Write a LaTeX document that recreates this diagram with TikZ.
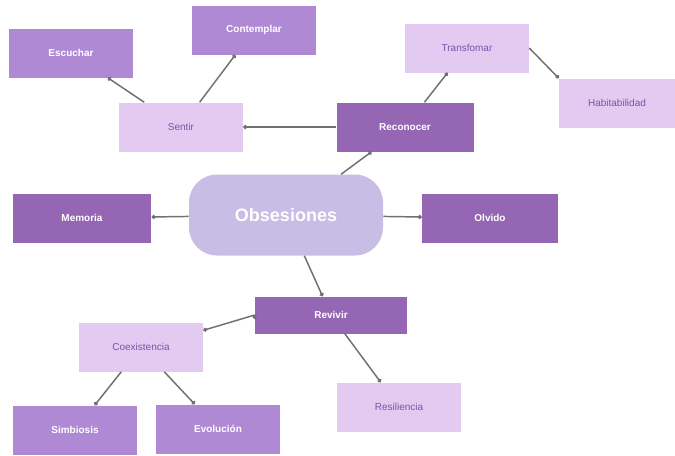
\documentclass[tikz,border=0pt]{standalone}
\usepackage{fontspec}
\setmainfont{Liberation Sans}
\usetikzlibrary{arrows.meta}

\definecolor{darkp}{HTML}{9566B3}
\definecolor{midp}{HTML}{B089D5}
\definecolor{lightp}{HTML}{E3CAF0}
\definecolor{corep}{HTML}{C8BDE4}
\definecolor{inkp}{HTML}{7B52AB}
\definecolor{linkg}{HTML}{707070}

\begin{document}
\begin{tikzpicture}[x=0.75pt,y=-0.75pt,>={Circle[length=3pt,fill=black!80]},
  box/.style={rectangle, inner sep=0pt, minimum width=93pt, minimum height=36.75pt,
    font=\fontsize{7.5}{9}\selectfont},
  dark/.style={box, fill=darkp, text=white, font=\fontsize{7.5}{9}\selectfont\bfseries},
  mid/.style={box, fill=midp, text=white, font=\fontsize{7.5}{9}\selectfont\bfseries},
  light/.style={box, fill=lightp, text=inkp},
  link/.style={draw=linkg, line width=1.1pt}]
  \useasboundingbox (0,0) rectangle (675,455);

  \node[rectangle, rounded corners=21pt, fill=corep, text=white, minimum width=145.5pt,
    minimum height=60.75pt, font=\fontsize{13.5}{16}\selectfont\bfseries]
                                        (obs)    at (286,215) {Obsesiones};
  \node[dark, minimum width=102.75pt]   (recon)  at (405,127) {Reconocer};
  \node[light]                          (sentir) at (181,127) {Sentir};
  \node[mid]                            (escu)   at (71,53)   {Escuchar};
  \node[mid]                            (contem) at (254,30)  {Contemplar};
  \node[light]                          (transf) at (467,48)  {Transfomar};
  \node[light, minimum width=87pt]      (habit)  at (617,103) {Habitabilidad};
  \node[dark, minimum width=104pt]      (memo)   at (82,218)  {Memoria};
  \node[dark, minimum width=102pt]      (olvi)   at (490,218) {Olvido};
  \node[dark, minimum width=114pt, minimum height=27.75pt]
                                        (revi)   at (331,315) {Revivir};
  \node[light]                          (coex)   at (141,347) {Coexistencia};
  \node[mid]                            (simb)   at (75,430)  {Simbiosis};
  \node[mid]                            (evol)   at (218,429) {Evolución};
  \node[light]                          (resil)  at (399,407) {Resiliencia};

  \path[->, link]
  (obs) edge (recon)
  (obs) edge (memo)
  (obs) edge (olvi)
  (obs) edge (revi)
  (recon) edge (sentir)
  (recon) edge (transf)
  (transf.east) edge (habit.north west)
  (sentir) edge (escu)
  (sentir) edge (contem)
  (revi.west) edge (coex.15)
  (revi) edge (resil)
  (coex) edge (simb)
  (coex) edge (evol)
  ;
\end{tikzpicture}
\end{document}
